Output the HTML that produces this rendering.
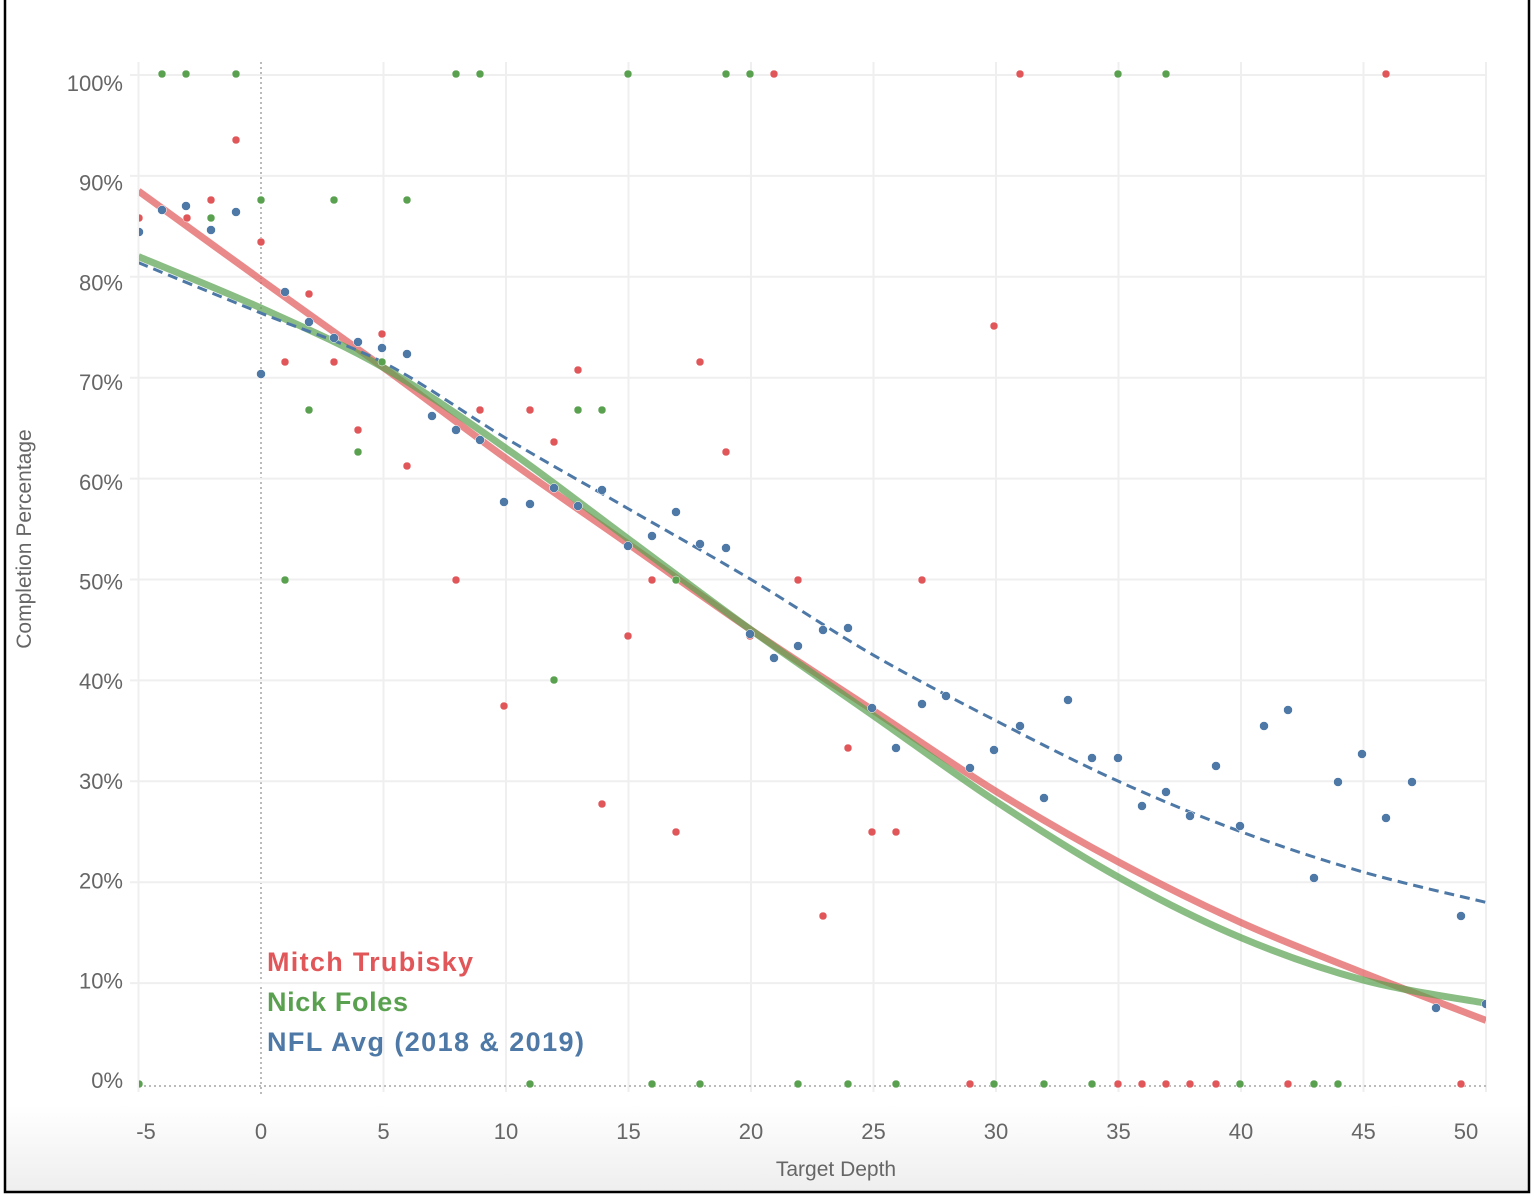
<!DOCTYPE html>
<html><head><meta charset="utf-8"><style>
html,body{margin:0;padding:0;background:#fff;}
svg{display:block;font-family:"Liberation Sans",sans-serif;}
</style></head><body>
<svg id="s" width="1534" height="1196" viewBox="0 0 1534 1196" xmlns="http://www.w3.org/2000/svg">
<defs>
<linearGradient id="bg" x1="0" y1="0" x2="0" y2="1">
<stop offset="0" stop-color="#ffffff"/><stop offset="1" stop-color="#eeeeee"/>
</linearGradient>
<clipPath id="cp"><rect x="139" y="60" width="1347" height="1035"/></clipPath>
</defs>
<rect x="0" y="0" width="1534" height="1196" fill="#fff"/>
<rect x="6" y="1105" width="1522" height="87" fill="url(#bg)"/>
<g id="grid"></g>
<g id="lbl" fill="#666" font-size="22"></g>
<text x="836" y="1176" text-anchor="middle" font-size="21" fill="#666">Target Depth</text>
<text transform="translate(31,539) rotate(-90)" text-anchor="middle" font-size="21" fill="#666">Completion Percentage</text>
<g clip-path="url(#cp)">
<path id="lr" fill="none" stroke="#e15759" stroke-opacity="0.7" stroke-width="7"/>
<path id="lg" fill="none" stroke="#59a14f" stroke-opacity="0.7" stroke-width="7"/>
<path id="lb" fill="none" stroke="#4e79a7" stroke-width="3" stroke-dasharray="10,6"/>
<g id="pts" stroke="#fff" stroke-width="0.5"></g>
</g>
<text x="267" y="971" font-size="27" font-weight="bold" fill="#e15759" textLength="206">Mitch Trubisky</text>
<text x="267" y="1011" font-size="27" font-weight="bold" fill="#59a14f" textLength="141">Nick Foles</text>
<text x="267" y="1051" font-size="27" font-weight="bold" fill="#4e79a7" textLength="317">NFL Avg (2018 &amp; 2019)</text>
<rect x="5" y="-5" width="1524" height="1197" fill="none" stroke="#000" stroke-width="2.5"/>
</svg>
<script>
var NS="http://www.w3.org/2000/svg";
function X(v){return 261+v*24.5;}
function Y(p){return 1084-p*10.09;}
function el(t,a,par){var e=document.createElementNS(NS,t);for(var k in a)e.setAttribute(k,a[k]);document.getElementById(par).appendChild(e);return e;}
for(var v=-5;v<=50;v+=5){
 if(v==0){el('line',{x1:X(0),y1:62,x2:X(0),y2:1094,stroke:'#bbb','stroke-width':2,'stroke-dasharray':'2,3'},'grid');}
 else el('line',{x1:X(v),y1:62,x2:X(v),y2:1092,stroke:'#efefef','stroke-width':2},'grid');
 var t=el('text',{x:(v==50?1466:(v==-5?146:X(v))),y:1139,'text-anchor':'middle'},'lbl');t.textContent=v;
}
for(var p=0;p<=100;p+=10){
 if(p>0)el('line',{x1:130,y1:Y(p),x2:1486,y2:Y(p),stroke:'#efefef','stroke-width':2},'grid');
 var t=el('text',{x:123,y:(1080-p*9.97)+8,'text-anchor':'end'},'lbl');t.textContent=p+'%';
}
el('line',{x1:139,y1:1086,x2:1486,y2:1086,stroke:'#bbb','stroke-width':2,'stroke-dasharray':'2,3'},'grid');
function curve(id,vals){
 var P=vals.map(function(p,i){return [X(-5+5*i),Y(p)];});
 var d='M'+P[0][0]+','+P[0][1];
 for(var i=0;i<P.length-1;i++){
  var p0=P[Math.max(0,i-1)],p1=P[i],p2=P[i+1],p3=P[Math.min(P.length-1,i+2)];
  var c1=[p1[0]+(p2[0]-p0[0])/6,p1[1]+(p2[1]-p0[1])/6];
  var c2=[p2[0]-(p3[0]-p1[0])/6,p2[1]-(p3[1]-p1[1])/6];
  d+=' C'+c1+' '+c2+' '+p2;
 }
 document.getElementById(id).setAttribute('d',d);
}
curve('lr',[88.5,79.7,71,62,53.5,45,37,29,22,16,11,6.3]);
curve('lg',[82,76.9,71,63,54,45,36.5,28,20.5,14.5,10.3,8]);
curve('lb',[81.4,76.4,71.5,64,57,50,42.5,36,30,25,21,18]);
var R=[[139,218],[187,218],[211,200],[236,140],[261,242],[285,362],[309,294],[334,362],[358,430],[382,334],[407,466],[456,580],[480,410],[504,706],[530,410],[554,442],[578,370],[602,804],[628,636],[652,580],[676,832],[700,362],[726,452],[750,636],[774,74],[798,580],[823,916],[848,748],[872,832],[896,832],[922,580],[970,1084],[994,326],[1020,74],[1118,1084],[1142,1084],[1166,1084],[1190,1084],[1216,1084],[1288,1084],[1386,74],[1461,1084]];
var G=[[162,74],[186,74],[236,74],[211,218],[261,200],[285,580],[309,410],[334,200],[358,452],[382,362],[407,200],[456,74],[480,74],[530,1084],[554,680],[578,410],[602,410],[628,74],[652,1084],[676,580],[700,1084],[726,74],[750,74],[798,1084],[848,1084],[896,1084],[994,1084],[1044,1084],[1092,1084],[1118,74],[1166,74],[1240,1084],[1314,1084],[1338,1084],[139,1084]];
var B=[[139,232],[162,210],[186,206],[211,230],[236,212],[261,374],[285,292],[309,322],[334,338],[358,342],[382,348],[407,354],[432,416],[456,430],[480,440],[504,502],[530,504],[554,488],[578,506],[602,490],[628,546],[652,536],[676,512],[700,544],[726,548],[750,634],[774,658],[798,646],[823,630],[848,628],[872,708],[896,748],[922,704],[946,696],[970,768],[994,750],[1020,726],[1044,798],[1068,700],[1092,758],[1118,758],[1142,806],[1166,792],[1190,816],[1216,766],[1240,826],[1264,726],[1288,710],[1314,878],[1338,782],[1362,754],[1386,818],[1412,782],[1436,1008],[1461,916],[1486,1004]];
[[R,'#e15759',4],[G,'#59a14f',4],[B,'#4e79a7',4.5]].forEach(function(s){s[0].forEach(function(q){el('circle',{cx:q[0],cy:q[1],r:s[2],fill:s[1]},'pts');});});
</script>
</body></html>
